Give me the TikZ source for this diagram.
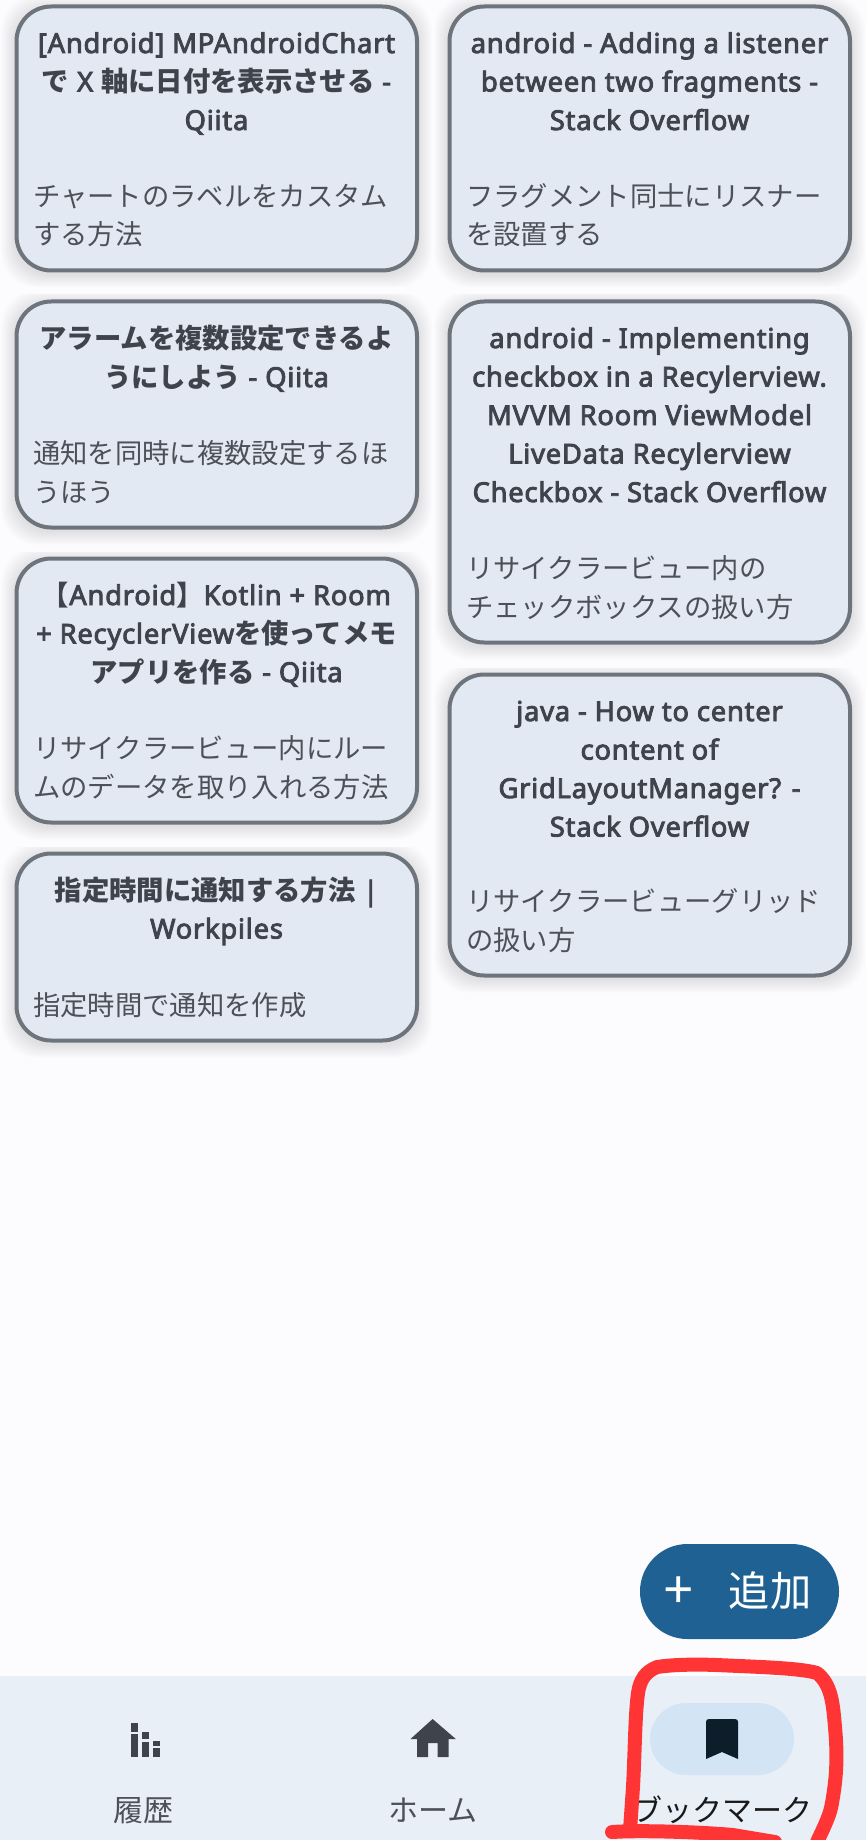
\documentclass[tikz,border=0pt]{standalone}
\usepackage{fontspec}
\setmainfont{Noto Sans}
\newfontfamily\cjk{Noto Sans CJK JP}
\newfontfamily\latb[FakeBold=3.2,LetterSpace=2.8]{Noto Sans}
\definecolor{pagebg}{HTML}{FCFCFF}
\definecolor{cardfill}{HTML}{E3E9F2}
\definecolor{cardedge}{HTML}{6E747C}
\definecolor{ink}{HTML}{3E434C}
\definecolor{softink}{HTML}{4C5159}
\definecolor{navbg}{HTML}{E9EFF7}
\definecolor{btn}{HTML}{1F6192}
\definecolor{pill}{HTML}{D3E4F4}
\definecolor{bookmarkink}{HTML}{0E1D2A}
\definecolor{scrawl}{HTML}{FF3535}
\newcommand{\J}[1]{{\cjk\bfseries #1}}
\tikzset{
  cardbox/.style={fill=cardfill,draw=cardedge,line width=3pt,rounded corners=26pt},
  titleline/.style={anchor=base,inner sep=0pt,text=ink,font=\fontsize{20.5}{24}\selectfont\latb},
  descline/.style={anchor=base west,inner sep=0pt,text=softink,font=\fontsize{20.5}{24}\selectfont\cjk},
  navlabel/.style={anchor=base,inner sep=0pt,text=softink,font=\fontsize{22.5}{26}\selectfont\cjk},
  icon/.style={fill=ink,draw=none},
  redpen/.style={draw=scrawl,line width=10.5pt,line cap=round,line join=round}
}
\newcommand{\cardat}[4]{%
  \begin{scope}
    \clip (#1-15,#2-6) rectangle (#3+15,#4+16);
    \foreach \i in {1,...,14}{
      \fill[black,opacity=0.008,rounded corners=27pt] (#1-\i,#2-\i+3) rectangle (#3+\i,#4+\i+3);
    }
  \end{scope}
  \draw[cardbox] (#1+1.5,#2+0.5) rectangle (#3-1,#4-0.5);
}
\newcommand{\tl}[4]{\node[titleline] (#1) at (#2,#3) {#4};}
\newcommand{\dl}[4]{\node[descline] (#1) at (#2,#3) {#4};}
\begin{document}
\begin{tikzpicture}[x=0.75pt,y=-0.75pt]
\useasboundingbox (0,0) rectangle (866,1840);
\fill[pagebg] (0,0) rectangle (866,1840);
\fill[navbg] (0,1676) rectangle (866,1840);
% cards
\cardat{15}{6}{418}{271}
\cardat{15}{301}{418}{528}
\cardat{15}{558}{418}{823}
\cardat{15}{853}{418}{1041}
\cardat{448}{6}{851}{271}
\cardat{448}{301}{851}{643}
\cardat{448}{674}{851}{976}
% left column
\tl{a1}{216.5}{53}{[Android] MPAndroidChart}
\tl{a2}{216.5}{91.5}{\J{で} X \J{軸に日付を表示させる} -}
\tl{a3}{216.5}{130}{Qiita}
\dl{a4}{33}{207}{チャートのラベルをカスタム}
\dl{a5}{33}{245}{する方法}
\tl{b1}{216.5}{348.5}{\J{アラームを複数設定できるよ}}
\tl{b2}{216.5}{387}{\J{うにしよう} - Qiita}
\dl{b3}{33}{463}{通知を同時に複数設定するほ}
\dl{b4}{33}{502}{うほう}
\tl{c1}{216.5}{605}{\J{【}Android\J{】}Kotlin + Room}
\tl{c2}{216.5}{643.5}{+ RecyclerView\J{を使ってメモ}}
\tl{c3}{216.5}{682}{\J{アプリを作る} - Qiita}
\dl{c4}{33}{758.5}{リサイクラービュー内にルー}
\dl{c5}{33}{797}{ムのデータを取り入れる方法}
\tl{d1}{216.5}{900.5}{\J{指定時間に通知する方法} |}
\tl{d2}{216.5}{938.5}{Workpiles}
\dl{d3}{33}{1015}{指定時間で通知を作成}
% right column
\tl{e1}{649.5}{53}{android - Adding a listener}
\tl{e2}{649.5}{91.5}{between two fragments -}
\tl{e3}{649.5}{130}{Stack Overflow}
\dl{e4}{466}{207}{フラグメント同士にリスナー}
\dl{e5}{466}{245}{を設置する}
\tl{f1}{649.5}{348}{android - Implementing}
\tl{f2}{649.5}{386.5}{checkbox in a Recylerview.}
\tl{f3}{649.5}{425}{MVVM Room ViewModel}
\tl{f4}{649.5}{463.5}{LiveData Recylerview}
\tl{f5}{649.5}{502}{Checkbox - Stack Overflow}
\dl{f6}{466}{578.5}{リサイクラービュー内の}
\dl{f7}{466}{617}{チェックボックスの扱い方}
\tl{g1}{649.5}{721}{java - How to center}
\tl{g2}{649.5}{759.5}{content of}
\tl{g3}{649.5}{798}{GridLayoutManager? -}
\tl{g4}{649.5}{836.5}{Stack Overflow}
\dl{g5}{466}{911.5}{リサイクラービューグリッド}
\dl{g6}{466}{950}{の扱い方}
% add button
\fill[btn,rounded corners=35.6pt] (640,1544) rectangle (839,1639);
\node[anchor=center,inner sep=0pt,text=white,font=\fontsize{40}{44}\selectfont] (plus) at (678.5,1593) {+};
\node[anchor=base,inner sep=0pt,text=white,font=\fontsize{31}{36}\selectfont\cjk] (add) at (770,1606) {追加};
% nav icons
\fill[icon] (131,1723) rectangle (138,1732);
\fill[icon] (131,1734) rectangle (138,1757);
\fill[icon] (142,1732) rectangle (149,1739);
\fill[icon] (142,1742) rectangle (149,1757);
\fill[icon] (153.3,1741) rectangle (160.3,1746);
\fill[icon] (153.3,1748) rectangle (160.3,1757);
\fill[icon] (432.6,1719) -- (455.8,1739) -- (448.6,1739) -- (448.6,1757) -- (437.5,1757) -- (437.5,1743) -- (428,1743) -- (428,1757) -- (417,1757) -- (417,1739) -- (410.5,1739) -- cycle;
\fill[pill,rounded corners=27pt] (650,1703) rectangle (794,1775);
\fill[bookmarkink] (706,1759) -- (706,1722) .. controls (706,1720) and (707,1719) .. (709,1719) -- (735,1719) .. controls (737,1719) and (738,1720) .. (738,1722) -- (738,1759) -- (722,1752) -- cycle;
\node[navlabel] (n1) at (143.5,1821) {履歴};
\node[navlabel] (n2) at (433,1821) {ホーム};
\node[navlabel,text=black!90] (n3) at (722,1821) {ブックマーク};
% red scrawl
\draw[redpen] (817,1842) .. controls (825,1825) and (830,1815) .. (832,1803) .. controls (836,1780) and (838,1760) .. (835,1727) .. controls (833,1705) and (832,1685) .. (817,1673) .. controls (800,1668) and (760,1667) .. (717,1665) .. controls (690,1664) and (670,1665) .. (657,1667) .. controls (645,1672) and (640,1680) .. (638,1693) .. controls (635,1715) and (635,1750) .. (633,1787) -- (630,1830);
\draw[redpen] (612,1832) .. controls (640,1830) and (700,1832) .. (733,1835) -- (775,1842);
\end{tikzpicture}
\end{document}
